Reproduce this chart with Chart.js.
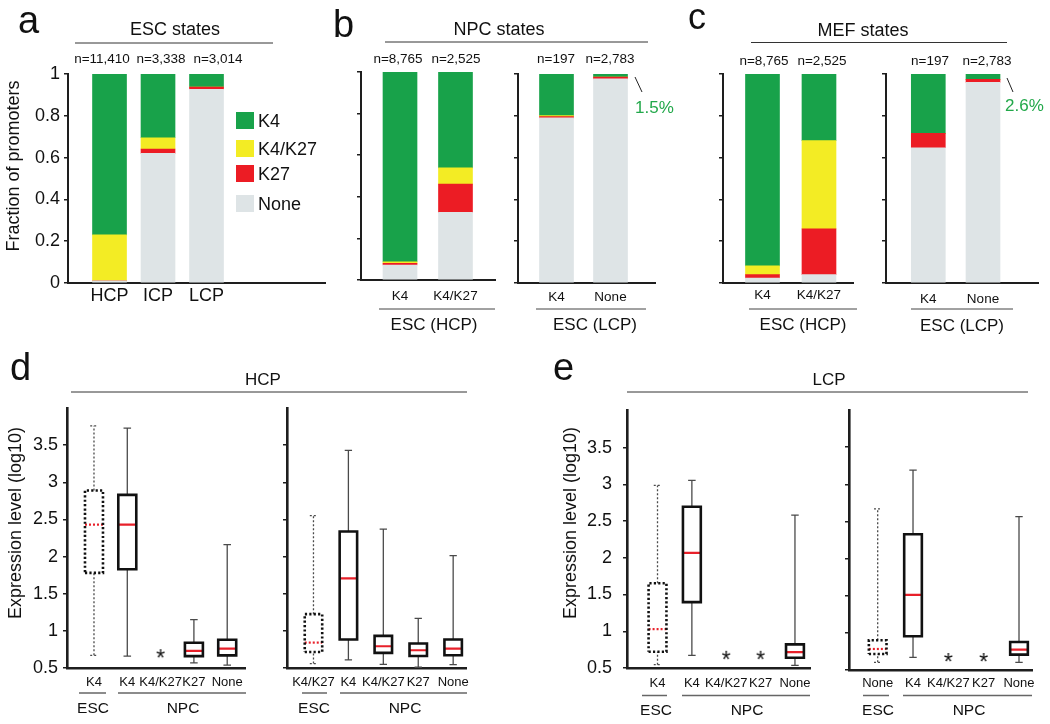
<!DOCTYPE html>
<html><head><meta charset="utf-8">
<script src="https://cdn.jsdelivr.net/npm/chart.js@4.4.0/dist/chart.umd.min.js"></script>
<style>
html,body{margin:0;padding:0;background:#fff;}
#root{position:relative;width:1050px;height:724px;overflow:hidden;font-family:"Liberation Sans",Arial,sans-serif;color:#111;background:#fff;}
.t{position:absolute;white-space:nowrap;line-height:1;}
.cw{position:absolute;}
.sq{position:absolute;}
</style></head><body><div id="root"></div>
<script>
// ---------------- DATA ----------------
// panel a: ESC states (fractions, bottom to top: None, K27, K4/K27, K4)
const aCats   = ['HCP', 'ICP', 'LCP'];
const aNone   = [0.010, 0.620, 0.927];
const aK27    = [0.000, 0.021, 0.010];
const aK4K27  = [0.220, 0.054, 0.000];
const aK4     = [0.770, 0.305, 0.063];
const aCounts = ['n=11,410', 'n=3,338', 'n=3,014'];

// panel b: NPC states
const hcpCats  = ['K4', 'K4/K27'];
const lcpCats  = ['K4', 'None'];
const bHcpNone  = [0.072, 0.325];
const bHcpK27   = [0.008, 0.136];
const bHcpK4K27 = [0.007, 0.078];
const bHcpK4    = [0.913, 0.461];
const bLcpNone  = [0.790, 0.977];
const bLcpK27   = [0.006, 0.008];
const bLcpK4K27 = [0.005, 0.000];
const bLcpK4    = [0.199, 0.015];
const bCounts   = ['n=8,765', 'n=2,525', 'n=197', 'n=2,783'];

// panel c: MEF states
const cHcpNone  = [0.024, 0.040];
const cHcpK27   = [0.016, 0.219];
const cHcpK4K27 = [0.042, 0.422];
const cHcpK4    = [0.918, 0.319];
const cLcpNone  = [0.647, 0.960];
const cLcpK27   = [0.069, 0.014];
const cLcpK4K27 = [0.000, 0.000];
const cLcpK4    = [0.284, 0.026];
const cCounts   = ['n=8,765', 'n=2,525', 'n=197', 'n=2,783'];

const fracTicks = [0, 0.2, 0.4, 0.6, 0.8, 1];
const exprTicks = [0.5, 1, 1.5, 2, 2.5, 3, 3.5];

// panel d: HCP expression boxplots (log10)
const dLLabels = ['K4', 'K4', 'K4/K27', 'K27', 'None'];
const dLMin  = [0.67, 0.66, null, 0.57, 0.54];
const dLQ1   = [1.78, 1.83, null, 0.66, 0.67];
const dLMed  = [2.43, 2.43, null, 0.73, 0.76];
const dLQ3   = [2.89, 2.83, null, 0.84, 0.88];
const dLMax  = [3.76, 3.73, null, 1.15, 2.16];
const dLStar = [null, null, 0.70, null, null];

const dRLabels = ['K4/K27', 'K4', 'K4/K27', 'K27', 'None'];
const dRMin  = [0.56, 0.61, 0.55, 0.51, 0.545];
const dRQ1   = [0.716, 0.883, 0.703, 0.662, 0.671];
const dRMed  = [0.842, 1.707, 0.793, 0.739, 0.761];
const dRQ3   = [1.225, 2.338, 0.932, 0.829, 0.883];
const dRMax  = [2.55, 3.43, 2.37, 1.167, 2.014];
const dRStar = [null, null, null, null, null];

// panel e: LCP expression boxplots (log10)
const eLLabels = ['K4', 'K4', 'K4/K27', 'K27', 'None'];
const eLMin  = [0.545, 0.672, null, null, 0.536];
const eLQ1   = [0.722, 1.396, null, null, 0.640];
const eLMed  = [1.029, 2.066, null, null, 0.717];
const eLQ3   = [1.654, 2.695, null, null, 0.821];
const eLMax  = [2.984, 3.052, null, null, 2.581];
const eLStar = [null, null, 0.68, 0.68, null];

const eRLabels = ['None', 'K4', 'K4/K27', 'K27', 'None'];
const eRMin  = [0.603, 0.671, null, null, 0.603];
const eRQ1   = [0.716, 0.954, null, null, 0.707];
const eRMed  = [0.783, 1.511, null, null, 0.774];
const eRQ3   = [0.900, 2.328, null, null, 0.877];
const eRMax  = [2.670, 3.190, null, null, 2.566];
const eRStar = [null, null, 0.675, 0.675, null];

// ---------------- STYLE ----------------
const FONT = '"Liberation Sans", Arial, Helvetica, sans-serif';
const COL = { K4: '#18a24a', K4K27: '#f3ec24', K27: '#ec1c24', None: '#dee4e6' };
const AX = '#1e1e1e';
Chart.defaults.font.family = FONT;
Chart.defaults.color = '#111';
Chart.defaults.animation = false;

const root = document.getElementById('root');

function makeCanvas(f) {
  const div = document.createElement('div');
  div.className = 'cw';
  const w = f.wy + (f.x1 - f.x0) + f.pr;
  const h = f.pt + (f.yBot - f.yTop) + f.hx;
  div.style.left = (f.x0 - f.wy) + 'px';
  div.style.top = (f.yTop - f.pt) + 'px';
  div.style.width = w + 'px';
  div.style.height = h + 'px';
  const cv = document.createElement('canvas');
  cv.width = w; cv.height = h;
  cv.style.width = w + 'px'; cv.style.height = h + 'px';
  div.appendChild(cv);
  root.appendChild(div);
  return cv;
}

const pts = (arr) => arr.map((v, i) => ({ x: i + 1, y: v }));

function barChart(f, cats, none, k27, k4k27, k4, xr, showY, xFont, xPad) {
  const cv = makeCanvas(f);
  const mk = (label, arr, color) => ({ label, data: pts(arr), backgroundColor: color, borderWidth: 0, barThickness: 34 });
  new Chart(cv, {
    type: 'bar',
    data: { datasets: [
      mk('None', none, COL.None), mk('K27', k27, COL.K27),
      mk('K4/K27', k4k27, COL.K4K27), mk('K4', k4, COL.K4)
    ] },
    options: {
      responsive: false, devicePixelRatio: 1, events: [],
      layout: { padding: { left: 0, top: f.pt, right: f.pr, bottom: 0 } },
      plugins: { legend: { display: false }, tooltip: { enabled: false } },
      scales: {
        x: {
          type: 'linear', min: xr[0], max: xr[1], stacked: true, z: 1, offset: false,
          grid: { display: false, drawTicks: false, offset: false },
          border: { display: true, color: AX, width: 2 },
          afterBuildTicks: (s) => { s.ticks = cats.map((c, i) => ({ value: i + 1 })); },
          ticks: { callback: (v) => cats[Math.round(v) - 1] ?? '', font: { size: xFont }, padding: xPad, color: '#111', maxRotation: 0, autoSkip: false },
          afterFit: (s) => { s.height = f.hx; }
        },
        y: {
          min: 0, max: 1, stacked: true, z: 1,
          grid: { display: true, drawOnChartArea: false, drawTicks: true, tickLength: 4, color: AX, lineWidth: 1.5 },
          border: { display: true, color: AX, width: 2 },
          afterBuildTicks: (s) => { s.ticks = fracTicks.map((v) => ({ value: v })); },
          ticks: { callback: (v) => showY ? String(+(+v).toFixed(2)) : '', font: { size: 18 }, padding: 4, color: '#111' },
          afterFit: (s) => { s.width = f.wy; }
        }
      }
    }
  });
}

// asterisk marker drawn as text glyph
function starImage() {
  const c = document.createElement('canvas');
  c.width = 16; c.height = 16;
  const g = c.getContext('2d');
  g.fillStyle = '#111';
  g.font = '23px ' + FONT;
  g.textAlign = 'center';
  g.textBaseline = 'alphabetic';
  const m = g.measureText('*');
  const asc = m.actualBoundingBoxAscent, desc = m.actualBoundingBoxDescent;
  g.fillText('*', 8, 8 + (asc - desc) / 2);
  return c;
}
const STAR = starImage();

function boxChart(f, labels, mn, q1, md, q3, mx, star, xr, hw, showY, yPad, xPad) {
  const cv = makeCanvas(f);
  const cap = hw * 0.42;
  const gap = (x) => ({ x, y: null });
  const sBox = [], dBox = [], sMed = [], dMed = [], sWh = [], dWh = [], stars = [];
  labels.forEach((l, i) => {
    const x = i + 1;
    if (star[i] != null) stars.push({ x, y: star[i] });
    if (q1[i] == null) return;
    const esc = (i === 0);
    const box = esc ? dBox : sBox, med = esc ? dMed : sMed, wh = esc ? dWh : sWh;
    box.push({ x: x - hw, y: q1[i] }, { x: x + hw, y: q1[i] }, { x: x + hw, y: q3[i] }, { x: x - hw, y: q3[i] }, { x: x - hw, y: q1[i] }, gap(x));
    med.push({ x: x - hw, y: md[i] }, { x: x + hw, y: md[i] }, gap(x));
    wh.push({ x, y: mn[i] }, { x, y: q1[i] }, gap(x), { x, y: q3[i] }, { x, y: mx[i] }, gap(x),
            { x: x - cap, y: mn[i] }, { x: x + cap, y: mn[i] }, gap(x),
            { x: x - cap, y: mx[i] }, { x: x + cap, y: mx[i] }, gap(x));
  });
  const line = (data, color, width, dash, capStyle) => ({
    data, showLine: true, borderColor: color, borderWidth: width, borderDash: dash,
    pointRadius: 0, spanGaps: false, tension: 0, borderCapStyle: capStyle || 'butt', borderJoinStyle: 'miter', fill: false
  });
  new Chart(cv, {
    type: 'scatter',
    data: { datasets: [
      line(sBox, '#111', 2.6, [], 'square'),
      line(dBox, '#111', 2.6, [2.2, 2.2], 'butt'),
      line(sMed, '#e8202a', 2.2, []),
      line(dMed, '#e8202a', 2.2, [2, 2]),
      line(sWh, '#4a4a4a', 1.3, []),
      line(dWh, '#4a4a4a', 1.3, [2, 2]),
      { data: stars, showLine: false, pointStyle: STAR, pointRadius: 5 }
    ] },
    options: {
      responsive: false, devicePixelRatio: 1, events: [],
      layout: { padding: { left: 0, top: f.pt, right: f.pr, bottom: 0 } },
      plugins: { legend: { display: false }, tooltip: { enabled: false } },
      scales: {
        x: {
          type: 'linear', min: xr[0], max: xr[1], z: 1, offset: false,
          grid: { display: false, drawTicks: false },
          border: { display: true, color: AX, width: 2.6 },
          afterBuildTicks: (s) => { s.ticks = labels.map((c, i) => ({ value: i + 1 })); },
          ticks: { callback: (v) => labels[Math.round(v) - 1] ?? '', font: { size: 13 }, padding: xPad, color: '#111', maxRotation: 0, autoSkip: false },
          afterFit: (s) => { s.height = f.hx; }
        },
        y: {
          min: 0.5, max: 4.0, z: 1,
          grid: { display: true, drawOnChartArea: false, drawTicks: true, tickLength: 4, color: AX, lineWidth: 1.5 },
          border: { display: true, color: AX, width: 2.6 },
          afterBuildTicks: (s) => { s.ticks = exprTicks.map((v) => ({ value: v })); },
          ticks: { callback: (v) => showY ? String(v) : '', font: { size: 18 }, padding: yPad, color: '#111' },
          afterFit: (s) => { s.width = f.wy; }
        }
      }
    }
  });
}

// ---------------- CHARTS ----------------
barChart({ x0: 68, x1: 325, yTop: 74, yBot: 283, wy: 44, hx: 34, pt: 20, pr: 4 },
  aCats, aNone, aK27, aK4K27, aK4, [0.144, 5.443], true, 18, 2);
barChart({ x0: 361, x1: 495, yTop: 72, yBot: 280, wy: 14, hx: 30, pt: 20, pr: 4 },
  hcpCats, bHcpNone, bHcpK27, bHcpK4K27, bHcpK4, [0.297, 2.712], false, 13.5, 8);
barChart({ x0: 518, x1: 655, yTop: 74, yBot: 283, wy: 14, hx: 30, pt: 20, pr: 4 },
  lcpCats, bLcpNone, bLcpK27, bLcpK4K27, bLcpK4, [0.287, 2.824], false, 13.5, 6);
barChart({ x0: 723, x1: 853, yTop: 74, yBot: 283, wy: 14, hx: 30, pt: 20, pr: 4 },
  hcpCats, cHcpNone, cHcpK27, cHcpK4K27, cHcpK4, [0.301, 2.602], false, 13.5, 4);
barChart({ x0: 886, x1: 1038, yTop: 74, yBot: 283, wy: 14, hx: 30, pt: 20, pr: 4 },
  lcpCats, cLcpNone, cLcpK27, cLcpK4K27, cLcpK4, [0.227, 3.005], false, 13.5, 8);

boxChart({ x0: 67, x1: 247, yTop: 408, yBot: 668, wy: 50, hx: 30, pt: 20, pr: 4 },
  dLLabels, dLMin, dLQ1, dLMed, dLQ3, dLMax, dLStar, [0.19, 5.534], 0.27, true, 5, 7);
boxChart({ x0: 287, x1: 472, yTop: 408, yBot: 668, wy: 14, hx: 30, pt: 20, pr: 4 },
  dRLabels, dRMin, dRQ1, dRMed, dRQ3, dRMax, dRStar, [0.242, 5.381], 0.25, false, 5, 7);
boxChart({ x0: 627, x1: 815, yTop: 409, yBot: 668, wy: 50, hx: 30, pt: 20, pr: 4 },
  eLLabels, eLMin, eLQ1, eLMed, eLQ3, eLMax, eLStar, [0.112, 5.445], 0.26, true, 11, 8);
boxChart({ x0: 849, x1: 1037, yTop: 410, yBot: 670, wy: 14, hx: 30, pt: 20, pr: 4 },
  eRLabels, eRMin, eRQ1, eRMed, eRQ3, eRMax, eRStar, [0.188, 5.396], 0.25, false, 5, 6);

// ---------------- TEXT & ANNOTATIONS ----------------
function T(str, x, base, size, opt) {
  opt = opt || {};
  const d = document.createElement('div');
  d.className = 't';
  d.textContent = str;
  d.style.fontSize = size + 'px';
  d.style.left = x + 'px';
  d.style.top = (base - 0.8465 * size) + 'px';
  if (opt.color) d.style.color = opt.color;
  if (opt.align !== 'left') d.style.transform = 'translateX(-50%)';
  root.appendChild(d);
}
function R(str, cx, cy, size) {
  const d = document.createElement('div');
  d.className = 't';
  d.textContent = str;
  d.style.fontSize = size + 'px';
  d.style.left = cx + 'px';
  d.style.top = cy + 'px';
  d.style.transform = 'translate(-50%,-50%) rotate(-90deg)';
  root.appendChild(d);
}
const svgNS = 'http://www.w3.org/2000/svg';
const svg = document.createElementNS(svgNS, 'svg');
svg.setAttribute('width', 1050); svg.setAttribute('height', 724);
svg.style.position = 'absolute'; svg.style.left = '0'; svg.style.top = '0';
root.appendChild(svg);
function L(x1, y1, x2, y2, color, w) {
  const l = document.createElementNS(svgNS, 'line');
  l.setAttribute('x1', x1); l.setAttribute('y1', y1);
  l.setAttribute('x2', x2); l.setAttribute('y2', y2);
  l.setAttribute('stroke', color); l.setAttribute('stroke-width', w);
  svg.appendChild(l);
}

// panel letters
T('a', 18, 33, 38, { align: 'left' });
T('b', 333, 37, 38, { align: 'left' });
T('c', 688, 29, 36, { align: 'left' });
T('d', 10, 380, 38, { align: 'left' });
T('e', 553, 380, 38, { align: 'left' });

// panel a
T('ESC states', 175, 35, 18);
L(75, 43, 273, 43, '#333', 1);
[102, 161, 218].forEach((x, i) => T(aCounts[i], x, 63, 13.5));
R('Fraction of promoters', 13, 166, 18);
const legendItems = [['K4', COL.K4, 112], ['K4/K27', COL.K4K27, 140], ['K27', COL.K27, 165], ['None', COL.None, 195]];
legendItems.forEach(([lab, col, y]) => {
  const s = document.createElement('div');
  s.className = 'sq';
  s.style.left = '236px'; s.style.top = y + 'px';
  s.style.width = '18px'; s.style.height = '17px';
  s.style.background = col;
  root.appendChild(s);
  T(lab, 258, y + 15, 18, { align: 'left' });
});

// panel b
T('NPC states', 499, 35, 18);
L(385, 42, 648, 42, '#333', 1);
[398, 456, 556, 610].forEach((x, i) => T(bCounts[i], x, 63, 13.5));
T('1.5%', 635, 113, 17, { align: 'left', color: '#22a84a' });
L(635, 77, 642, 92, '#222', 1);
L(379, 309, 495, 309, '#444', 1);
L(536, 309, 646, 309, '#444', 1);
T('ESC (HCP)', 434, 330, 17);
T('ESC (LCP)', 595, 330, 17);

// panel c
T('MEF states', 863, 36.5, 18);
L(751, 42.5, 1007, 42.5, '#333', 1);
[764, 822, 930, 987].forEach((x, i) => T(cCounts[i], x, 65, 13.5));
T('2.6%', 1005, 111, 17, { align: 'left', color: '#22a84a' });
L(1007, 78, 1013, 92, '#222', 1);
L(749, 309, 857, 309, '#444', 1);
L(911, 309, 1013, 309, '#444', 1);
T('ESC (HCP)', 803, 330, 17);
T('ESC (LCP)', 962, 331, 17);

// panel d
T('HCP', 263, 385, 17);
L(71, 392, 467, 392, '#333', 1);
R('Expression level (log10)', 15, 523, 18);
L(79, 693, 106, 693, '#666', 1.5);
L(118, 693, 246, 693, '#666', 1.5);
L(302, 693, 327, 693, '#666', 1.5);
L(340, 693, 467, 693, '#666', 1.5);
T('ESC', 93, 713, 15.5);
T('NPC', 183, 713, 15.5);
T('ESC', 314, 713, 15.5);
T('NPC', 405, 713, 15.5);

// panel e
T('LCP', 829, 385, 17);
L(627, 392, 1028, 392, '#333', 1);
R('Expression level (log10)', 570, 523, 18);
L(642, 695.5, 667, 695.5, '#666', 1.5);
L(682, 695.5, 810, 695.5, '#666', 1.5);
L(863, 695.5, 889, 695.5, '#666', 1.5);
L(903, 695.5, 1032, 695.5, '#666', 1.5);
T('ESC', 656, 715, 15.5);
T('NPC', 747, 715, 15.5);
T('ESC', 878, 715, 15.5);
T('NPC', 969, 715, 15.5);
</script></body></html>
